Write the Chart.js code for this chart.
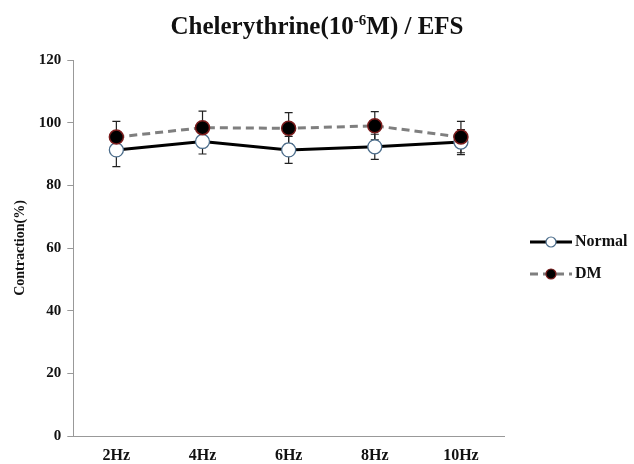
<!DOCTYPE html>
<html>
<head>
<meta charset="utf-8">
<script src="https://cdn.jsdelivr.net/npm/chart.js@4"></script>
<style>
  html, body { margin: 0; padding: 0; background: #fff; }
  #wrap { position: relative; width: 634px; height: 464px; }
  #title { position: absolute; top: 12px; left: 0; width: 634px; text-align: center;
           font: bold 25px "Liberation Serif", serif; color: #111; }
  #title sup { font-size: 15px; vertical-align: 9px; line-height: 0; }
</style>
</head>
<body>
<div id="wrap">
  <div id="title">Chelerythrine(10<sup>-6</sup>M) / EFS</div>
  <canvas id="chart" width="634" height="464"></canvas>
</div>
<script>
const labels = ['2Hz', '4Hz', '6Hz', '8Hz', '10Hz'];
const normalVals = [91.3, 94.0, 91.3, 92.3, 93.8];
const normalErr = [5.3, 4.0, 4.3, 4.0, 4.0];
const dmVals = [95.4, 98.4, 98.2, 99.0, 95.4];
const dmErr = [5.0, 5.3, 5.0, 4.5, 5.0];
const yTicks = [0, 20, 40, 60, 80, 100, 120];

const serif = '"Liberation Serif", "Times New Roman", serif';

// error bars drawn through the scales
const errorBars = {
    id: 'errorBars',
    beforeDatasetsDraw(chart) {
        const { ctx, scales: { x, y } } = chart;
        const sets = [[normalVals, normalErr], [dmVals, dmErr]];
        ctx.save();
        ctx.strokeStyle = '#222';
        ctx.lineWidth = 1.2;
        sets.forEach(([vals, errs]) => {
            vals.forEach((v, i) => {
                const px = x.getPixelForValue(i);
                const top = y.getPixelForValue(v + errs[i]);
                const bot = y.getPixelForValue(v - errs[i]);
                ctx.beginPath();
                ctx.moveTo(px, top); ctx.lineTo(px, bot);
                ctx.moveTo(px - 4, top); ctx.lineTo(px + 4, top);
                ctx.moveTo(px - 4, bot); ctx.lineTo(px + 4, bot);
                ctx.stroke();
            });
        });
        ctx.restore();
    }
};

// legend on the right: line + marker + label
const sideLegend = {
    id: 'sideLegend',
    afterDraw(chart) {
        const ctx = chart.ctx;
        const items = chart.data.datasets;
        const x0 = 530, x1 = 572;
        const ys = [242, 274];
        ctx.save();
        items.forEach((ds, i) => {
            const yy = ys[i];
            ctx.strokeStyle = ds.borderColor;
            ctx.lineWidth = ds.borderWidth;
            ctx.setLineDash(ds.borderDash || []);
            ctx.beginPath();
            ctx.moveTo(x0, yy); ctx.lineTo(x1, yy);
            ctx.stroke();
            ctx.setLineDash([]);
            ctx.beginPath();
            ctx.arc((x0 + x1) / 2, yy, 5, 0, Math.PI * 2);
            ctx.fillStyle = ds.pointBackgroundColor;
            ctx.fill();
            ctx.lineWidth = 1.2;
            ctx.strokeStyle = ds.pointBorderColor;
            ctx.stroke();
            ctx.fillStyle = '#111';
            ctx.font = 'bold 16px ' + serif;
            ctx.textBaseline = 'middle';
            ctx.fillText(ds.label, x1 + 3, yy);
        });
        ctx.restore();
    }
};

new Chart(document.getElementById('chart').getContext('2d'), {
    type: 'line',
    data: {
        labels: labels,
        datasets: [
            {
                label: 'Normal', data: normalVals, borderColor: '#000', borderWidth: 3,
                pointRadius: 7, pointBackgroundColor: '#fff', pointBorderColor: '#4d6e8c',
                pointBorderWidth: 1.3, tension: 0, order: 2
            },
            {
                label: 'DM', data: dmVals, borderColor: '#7f7f7f', borderWidth: 3, borderDash: [8, 5],
                pointRadius: 7, pointBackgroundColor: '#000', pointBorderColor: '#7a1c1c',
                pointBorderWidth: 1.5, tension: 0, order: 1
            }
        ]
    },
    options: {
        responsive: false,
        animation: false,
        layout: { padding: { top: 60, right: 130, left: 8, bottom: 0 } },
        plugins: { legend: { display: false }, title: { display: false }, tooltip: { enabled: false } },
        scales: {
            x: {
                offset: true,
                afterFit: axis => { axis.height = 28; },
                grid: { display: false, drawTicks: false },
                border: { color: '#999', width: 1 },
                ticks: { color: '#111', padding: 10, font: { family: serif, size: 16, weight: 'bold' } }
            },
            y: {
                min: 0, max: 120,
                afterBuildTicks: axis => { axis.ticks = yTicks.map(v => ({ value: v })); },
                grid: { display: true, drawOnChartArea: false, tickLength: 6, color: '#999' },
                border: { color: '#999', width: 1 },
                title: { display: true, text: 'Contraction(%)', color: '#111', padding: 4,
                         font: { family: serif, size: 14, weight: 'bold' } },
                ticks: { color: '#111', padding: 6, font: { family: serif, size: 15, weight: 'bold' } }
            }
        }
    },
    plugins: [errorBars, sideLegend]
});
</script>
</body>
</html>
